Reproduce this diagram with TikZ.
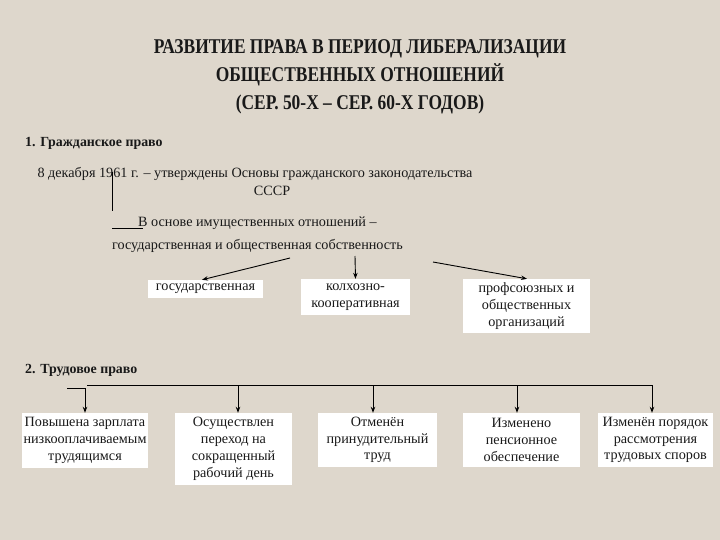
\documentclass[tikz,border=0pt]{standalone}
\usepackage{fontspec}
\setmainfont{Liberation Serif}
\usetikzlibrary{arrows.meta}
\definecolor{bg}{RGB}{222,215,204}
\definecolor{ink}{RGB}{25,25,25}
\tikzset{
  txt/.style={text=ink, inner sep=0pt, font=\fontsize{14.2}{17}\selectfont},
  head/.style={text=ink, inner sep=0pt, anchor=west, font=\bfseries\fontsize{13.9}{16}\selectfont},
  wbox/.style={fill=white, draw=none, text=ink, inner sep=0pt, align=center, font=\fontsize{14.2}{16.8}\selectfont},
  arr/.style={draw=black, line width=0.9pt, -{Stealth[length=6pt,width=4.5pt]}},
  ln/.style={draw=black, line width=0.9pt}
}
\begin{document}
\begin{tikzpicture}[x=1pt,y=-1pt]
\fill[bg] (0,0) rectangle (720,540);
\useasboundingbox (0,0) rectangle (720,540);

\node[text=ink, inner sep=0pt, font=\bfseries\fontsize{21}{28}\selectfont] (title) at (360,76)
  {\scalebox{0.83}[1]{\begin{tabular}{@{}c@{}}РАЗВИТИЕ ПРАВА В ПЕРИОД ЛИБЕРАЛИЗАЦИИ\\ОБЩЕСТВЕННЫХ ОТНОШЕНИЙ\\(СЕР. 50-Х – СЕР. 60-Х ГОДОВ)\end{tabular}}};

% Section 1
\node[head] (h1) at (25,143) {1. Гражданское право};
\node[txt] (date) at (255,174) {8 декабря 1961 г. – утверждены Основы гражданского законодательства};
\node[txt] (sssr) at (272,191) {СССР};
\node[txt, anchor=west] (osn1) at (138,223) {В основе имущественных отношений –};
\node[txt, anchor=west] (osn2) at (112,246) {государственная и общественная собственность};

\coordinate (v1) at (112,172);
\coordinate (v2) at (112,211);
\draw[ln] (v1) -- (v2);
\coordinate (u1) at (112,228);
\coordinate (u2) at (143,228);
\draw[ln] (u1) -- (u2);

\node[wbox, minimum width=115pt, minimum height=18pt] (gos) at (205.5,289) {государственная};
\node[wbox, minimum width=109pt, minimum height=36pt] (kolh) at (355.5,297) {колхозно-\\кооперативная};
\node[wbox, minimum width=127pt, minimum height=54pt] (prof) at (526.5,306) {профсоюзных и\\общественных\\организаций};

\coordinate (a1) at (290,258);
\coordinate (a2) at (355,256);
\coordinate (a3) at (433,262);
\draw[arr] (a1) -- (gos.north -| 202,0);
\draw[arr] (a2) -- (kolh.north);
\draw[arr] (a3) -- (prof.north -| 527,0);

% Section 2
\node[head] (h2) at (25,370) {2. Трудовое право};

\node[wbox, minimum width=126pt, minimum height=55pt] (b1) at (85,440.5) {Повышена зарплата\\низкооплачиваемым\\трудящимся};
\node[wbox, minimum width=117pt, minimum height=72pt] (b2) at (233.5,449) {Осуществлен\\переход на\\сокращенный\\рабочий день};
\node[wbox, minimum width=119pt, minimum height=54pt] (b3) at (377.5,440) {Отменён\\принудительный\\труд};
\node[wbox, minimum width=117pt, minimum height=54pt] (b4) at (521.5,440) {Изменено\\пенсионное\\обеспечение};
\node[wbox, minimum width=115pt, minimum height=54pt] (b5) at (655.5,440) {Изменён порядок\\рассмотрения\\трудовых споров};

\coordinate (k1) at (67,388);
\coordinate (k2) at (85,388);
\draw[ln] (k1) -- (k2);
\draw[arr] (k2) -- (b1.north);

\coordinate (l0) at (87,385);
\coordinate (l1) at (238,385);
\coordinate (l2) at (373,385);
\coordinate (l3) at (517,385);
\coordinate (l4) at (652,385);
\draw[ln] (l0) -- (l4);
\draw[arr] (l1) -- (b2.north -| l1);
\draw[arr] (l2) -- (b3.north -| l2);
\draw[arr] (l3) -- (b4.north -| l3);
\draw[arr] (l4) -- (b5.north -| l4);
\end{tikzpicture}
\end{document}
